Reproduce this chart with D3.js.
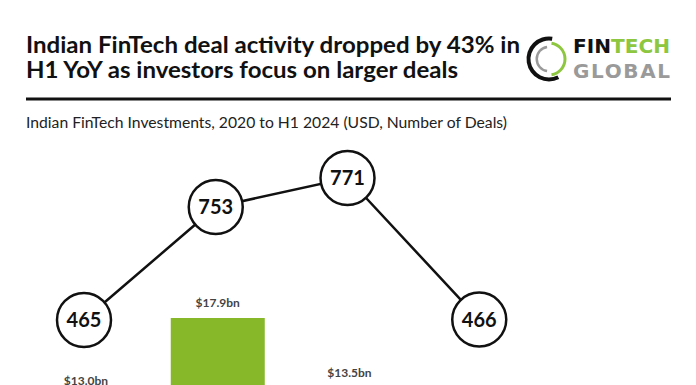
<!DOCTYPE html>
<html><head><meta charset="utf-8">
<script src="https://cdn.jsdelivr.net/npm/d3@7"></script>
<style>html,body{margin:0;padding:0;background:#fff;overflow:hidden}</style>
</head><body>
<script>
// Values for 2023 / H1 2024 funding and H1 2024 deals fall below the visible crop of the reference
const categories = ["2020", "2021", "2022", "2023", "H1 2024"];
const fundingBn = [13.0, 17.9, 13.5, null, null];
const fundingLabels = ["$13.0bn", "$17.9bn", "$13.5bn", null, null];
const deals = [465, 753, 771, 466, null];

const W = 696, H = 385;
const svg = d3.select("body").append("svg").attr("width", W).attr("height", H)
  .style("font-family", "Lato, 'Open Sans', sans-serif");
svg.append("rect").attr("width", W).attr("height", H).attr("fill", "#fff");

// Title
const title = svg.append("g");
title.append("text").attr("x", 26).attr("y", 53).text("Indian FinTech deal activity dropped by 43% in")
  .attr("font-size", 22).attr("font-weight", 700).attr("fill", "#111")
  .attr("textLength", 494).attr("lengthAdjust", "spacingAndGlyphs");
title.append("text").attr("x", 26).attr("y", 78).text("H1 YoY as investors focus on larger deals")
  .attr("font-size", 22).attr("font-weight", 700).attr("fill", "#111")
  .attr("textLength", 432).attr("lengthAdjust", "spacingAndGlyphs");

// Logo
const logo = svg.append("g").attr("transform", "translate(549,59)");
const arc = d3.arc();
logo.append("path").attr("d", arc({innerRadius: 18.5, outerRadius: 22.5, startAngle: Math.PI * 0.85, endAngle: Math.PI * 2.05})).attr("fill", "#111");
logo.append("path").attr("d", arc({innerRadius: 14.5, outerRadius: 17.5, startAngle: Math.PI * 0.05, endAngle: Math.PI * 0.95})).attr("fill", "#8dc63f");
logo.append("path").attr("d", arc({innerRadius: 11, outerRadius: 13.5, startAngle: Math.PI * 1.05, endAngle: Math.PI * 1.95})).attr("fill", "#9a9a9a");
const lt = svg.append("text").attr("x", 573).attr("y", 53).attr("font-family", "'DejaVu Sans', sans-serif")
  .attr("font-size", 20).attr("font-weight", 700).attr("textLength", 97).attr("lengthAdjust", "spacingAndGlyphs");
lt.append("tspan").attr("fill", "#111").text("FIN");
lt.append("tspan").attr("fill", "#8dc63f").text("TECH");
svg.append("text").attr("x", 573).attr("y", 78).attr("font-family", "'DejaVu Sans', sans-serif")
  .attr("font-size", 20).attr("font-weight", 700).attr("fill", "#9a9a9a")
  .attr("textLength", 97).attr("lengthAdjust", "spacing").text("GLOBAL");

// Rule
svg.append("line").attr("x1", 26).attr("x2", 671).attr("y1", 99).attr("y2", 99)
  .attr("stroke", "#111").attr("stroke-width", 3);

// Subtitle
svg.append("text").attr("x", 26).attr("y", 128).text("Indian FinTech Investments, 2020 to H1 2024 (USD, Number of Deals)")
  .attr("font-size", 15.5).attr("fill", "#222")
  .attr("textLength", 481).attr("lengthAdjust", "spacingAndGlyphs");

// Scales
const x = d3.scalePoint().domain(categories).range([84, 611]);
const barW = 94;
const yBar = d3.scaleLinear().domain([0, 17.9]).range([603, 318]);
const yDeals = d3.scaleLinear().domain([465, 753, 771]).range([320, 207, 178]);

// Bars
const barData = categories.map((c, i) => ({c, v: fundingBn[i], label: fundingLabels[i]})).filter(d => d.v != null);
svg.append("g").selectAll("rect").data(barData).join("rect")
  .attr("x", d => x(d.c) - barW / 2 + 2)
  .attr("width", barW)
  .attr("y", d => yBar(d.v))
  .attr("height", d => yBar(0) - yBar(d.v))
  .attr("fill", "#86b82a");

svg.append("g").selectAll("text").data(barData).join("text")
  .attr("x", d => x(d.c) + 2)
  .attr("y", d => yBar(d.v) - 11)
  .attr("text-anchor", "middle")
  .attr("font-size", 12).attr("font-weight", 700).attr("fill", "#444")
  .text(d => d.label);

// Line
const dealData = categories.map((c, i) => ({c, v: deals[i]})).filter(d => d.v != null);
svg.append("path").attr("d", d3.line().x(d => x(d.c)).y(d => yDeals(d.v))(dealData)).attr("fill", "none")
  .attr("stroke", "#111").attr("stroke-width", 2.5);

const g = svg.append("g").selectAll("g").data(dealData).join("g")
  .attr("transform", d => `translate(${x(d.c)},${yDeals(d.v)})`);
g.append("circle").attr("r", 27).attr("fill", "#fff").attr("stroke", "#111").attr("stroke-width", 2.5);
g.append("text").attr("text-anchor", "middle").attr("dy", "0.35em")
  .attr("font-size", 20).attr("font-weight", 700).attr("fill", "#111")
  .text(d => d.v);
</script>
</body></html>
